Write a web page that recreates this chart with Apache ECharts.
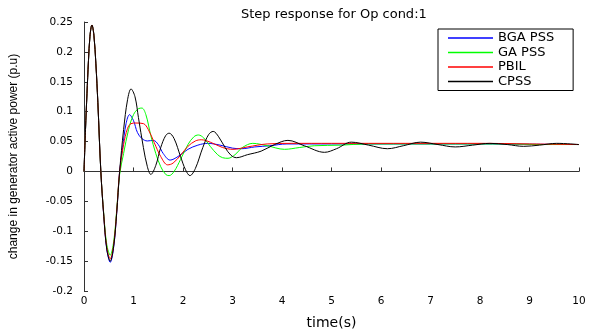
<!DOCTYPE html>
<html>
<head>
<meta charset="utf-8">
<script src="https://cdn.jsdelivr.net/npm/echarts@6/dist/echarts.min.js"></script>
<style>
  html, body { margin: 0; padding: 0; background: #fff; }
  #chart { width: 594px; height: 335px; }
</style>
</head>
<body>
<div id="chart"></div>
<script>
// 阶跃响应曲线 (Op cond:1)
const title = 'Step response for Op cond:1'
const seriesNames = ['BGA PSS', 'GA PSS', 'PBIL', 'CPSS']
const seriesColors = ['#0000ff', '#00ff00', '#ff0000', '#000000']

// shared first swing
const startT = [0, 0.03, 0.06, 0.09, 0.12, 0.16, 0.2, 0.24, 0.28, 0.34, 0.4, 0.46, 0.53, 0.6, 0.66]

const bgaStart = [0, 0.07, 0.13, 0.185, 0.226, 0.245, 0.228, 0.18, 0.115, 0.0, -0.075, -0.13, -0.152, -0.126, -0.07]
const gaStart = [0, 0.07, 0.13, 0.185, 0.226, 0.245, 0.228, 0.18, 0.115, 0.0, -0.072, -0.122, -0.14, -0.117, -0.065]
const pbilStart = [0, 0.07, 0.13, 0.185, 0.226, 0.245, 0.228, 0.18, 0.115, 0.0, -0.074, -0.127, -0.146, -0.122, -0.068]
const cpssStart = [0, 0.07, 0.13, 0.185, 0.226, 0.245, 0.228, 0.18, 0.115, 0.0, -0.075, -0.13, -0.15, -0.125, -0.07]

// after the first swing each controller goes its own way
const bgaT = [0.72, 0.78, 0.85, 0.92, 1.0, 1.08, 1.17, 1.28, 1.4, 1.5, 1.6, 1.74, 1.9, 2.1, 2.3, 2.5, 2.75, 3.0, 3.18, 3.45, 3.75, 4.1, 5, 6, 7, 8, 9, 10]
const bgaV = [0.0, 0.04, 0.08, 0.095, 0.085, 0.065, 0.055, 0.051, 0.052, 0.045, 0.03, 0.019, 0.025, 0.037, 0.044, 0.047, 0.044, 0.039, 0.038, 0.041, 0.043, 0.046, 0.046, 0.046, 0.046, 0.046, 0.0455, 0.045]

const gaT = [0.72, 0.8, 0.9, 1.0, 1.1, 1.17, 1.25, 1.35, 1.45, 1.55, 1.65, 1.72, 1.82, 1.95, 2.1, 2.22, 2.31, 2.42, 2.55, 2.7, 2.8, 2.91, 3.05, 3.2, 3.41, 3.7, 4.05, 4.35, 4.65, 5.2, 5.7, 6.5, 7.5, 8.5, 9.3, 10]
const gaV = [-0.005, 0.03, 0.07, 0.095, 0.105, 0.106, 0.095, 0.06, 0.03, 0.008, -0.005, -0.007, 0.0, 0.02, 0.045, 0.058, 0.061, 0.056, 0.042, 0.028, 0.023, 0.022, 0.028, 0.04, 0.047, 0.043, 0.037, 0.04, 0.043, 0.044, 0.046, 0.046, 0.046, 0.046, 0.045, 0.045]

const pbilT = [0.72, 0.8, 0.88, 0.95, 1.05, 1.2, 1.3, 1.42, 1.55, 1.69, 1.8, 1.95, 2.1, 2.25, 2.37, 2.55, 2.8, 3.01, 3.3, 3.7, 4.2, 5, 6, 7, 8, 9, 10]
const pbilV = [0.0, 0.045, 0.072, 0.08, 0.081, 0.08, 0.07, 0.048, 0.025, 0.011, 0.014, 0.027, 0.042, 0.051, 0.053, 0.049, 0.04, 0.037, 0.041, 0.046, 0.047, 0.047, 0.047, 0.047, 0.047, 0.046, 0.045]

const cpssT = [0.72, 0.8, 0.88, 0.95, 1.03, 1.1, 1.2, 1.28, 1.35, 1.45, 1.55, 1.65, 1.72, 1.82, 1.95, 2.05, 2.14, 2.25, 2.4, 2.52, 2.61, 2.72, 2.85, 2.97, 3.08, 3.3, 3.58, 3.85, 4.12, 4.45, 4.86, 5.1, 5.4, 5.75, 6.13, 6.45, 6.8, 7.15, 7.5, 7.85, 8.2, 8.55, 8.88, 9.2, 9.55, 10]
const cpssV = [0.0, 0.07, 0.12, 0.138, 0.125, 0.09, 0.04, 0.008, -0.005, 0.01, 0.04, 0.06, 0.064, 0.055, 0.025, 0.003, -0.007, 0.005, 0.04, 0.062, 0.067, 0.058, 0.04, 0.027, 0.023, 0.028, 0.034, 0.045, 0.052, 0.043, 0.032, 0.038, 0.049, 0.044, 0.038, 0.043, 0.049, 0.045, 0.041, 0.044, 0.047, 0.045, 0.042, 0.044, 0.047, 0.045]

const xTicks = [0, 1, 2, 3, 4, 5, 6, 7, 8, 9, 10]

const toPairs = (t1, v1, t2, v2) => t1.map((t, i) => [t, v1[i]]).concat(t2.map((t, i) => [t, v2[i]]))

const seriesData = [
  toPairs(startT, bgaStart, bgaT, bgaV),
  toPairs(startT, gaStart, gaT, gaV),
  toPairs(startT, pbilStart, pbilT, pbilV),
  toPairs(startT, cpssStart, cpssT, cpssV),
]

const font = '"DejaVu Sans", Arial, sans-serif'

const chart = echarts.init(document.getElementById('chart'), undefined, {
  width: 594,
  height: 335,
  renderer: 'canvas',
})

const axisCommon = {
  axisLine: { show: true, lineStyle: { color: '#333', width: 1 } },
  axisTick: { show: true, inside: true, length: 4, lineStyle: { color: '#333' } },
  splitLine: { show: false },
  axisLabel: { color: '#000', fontFamily: font, fontSize: 10.5 },
  nameTextStyle: { color: '#000', fontFamily: font, fontSize: 14 },
}

const option = {
  animation: false,
  backgroundColor: '#fff',
  title: {
    text: title,
    left: 236,
    top: 3,
    textStyle: { color: '#000', fontFamily: font, fontSize: 13, fontWeight: 'normal' },
  },
  legend: {
    orient: 'vertical',
    left: 438,
    top: 29,
    data: seriesNames,
    icon: 'rect',
    itemWidth: 45,
    itemHeight: 1.5,
    itemGap: 0.5,
    padding: [2, 19, 2, 10],
    borderColor: '#000',
    borderWidth: 1,
    backgroundColor: '#fff',
    textStyle: { color: '#000', fontFamily: font, fontSize: 13, lineHeight: 14 },
  },
  grid: {
    left: 82,
    right: 15,
    top: 22,
    bottom: 38,
    containLabel: false,
  },
  xAxis: {
    type: 'value',
    min: xTicks[0],
    max: xTicks[xTicks.length - 1],
    interval: 1,
    name: 'time(s)',
    nameLocation: 'middle',
    nameGap: 25,
    ...axisCommon,
    axisLabel: { ...axisCommon.axisLabel, margin: 5 },
  },
  yAxis: {
    type: 'value',
    min: -0.2,
    max: 0.25,
    interval: 0.05,
    name: 'change in generator active power (p.u)',
    nameLocation: 'middle',
    nameGap: 64,
    ...axisCommon,
    axisLabel: {
      ...axisCommon.axisLabel,
      margin: 11,
      formatter: (v) => String(Math.round(v * 100) / 100),
    },
    nameTextStyle: { color: '#000', fontFamily: 'Arial, "Liberation Sans", sans-serif', fontSize: 12 },
  },
  series: seriesNames.map((name, i) => ({
    name,
    type: 'line',
    data: seriesData[i],
    showSymbol: false,
    smooth: 0.35,
    color: seriesColors[i],
    lineStyle: { width: 1, color: seriesColors[i] },
    z: 2 + i,
  })),
}

chart.setOption(option)
</script>
</body>
</html>
